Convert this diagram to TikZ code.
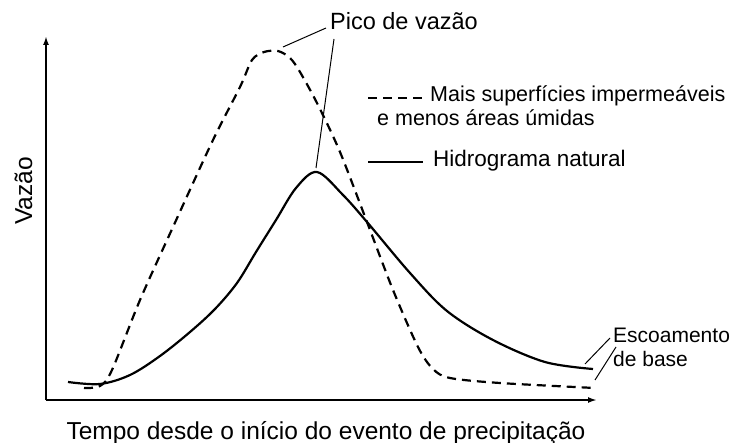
\documentclass[tikz,border=0pt]{standalone}
\usepackage{fontspec}
\setmainfont{Liberation Sans}
\usetikzlibrary{arrows.meta}
\begin{document}
\begin{tikzpicture}[x=1pt,y=-1pt,
  axis/.style={line width=2.2pt,-{Latex[length=9pt,width=6pt]}},
  curve/.style={line width=2.2pt,line join=round},
  dcurve/.style={curve,dash pattern=on 9pt off 6pt},
  leader/.style={line width=1pt},
  lbl/.style={inner sep=0pt,anchor=base west,font=\fontsize{21.5}{25}\selectfont},
  big/.style={inner sep=0pt,anchor=base,font=\fontsize{24.5}{28}\selectfont}]
\useasboundingbox (0,0) rectangle (735,443);
% axes
\coordinate (O) at (46,400);
\coordinate (ytip) at (46,36);
\coordinate (xtip) at (597,400);
\draw[axis] (O) -- (ytip);
\draw[axis] (O) -- (xtip);
% natural hydrograph
\draw[curve] plot[smooth,tension=0.55] coordinates {
 (68,382) (100,384) (130,375) (160,356) (190,332) (215,309) (237,283) (256,252) (276,220)
 (296,188) (317,172) (343,195) (367,222) (410,273) (447,311) (493,340) (545,362) (593,369)};
% urbanized hydrograph
\draw[dcurve] plot[smooth,tension=0.5] coordinates {
 (84,388) (100,386) (112,370) (140,300) (173,227) (213,140) (240,87) (252,60) (264,52)
 (278,51) (290,58) (300,72) (318,105) (340,152) (367,222) (393,290) (418,347) (433,369)
 (450,378) (500,383) (595,388)};
% title and leaders
\node[lbl,font=\fontsize{23.5}{27}\selectfont] (pico) at (330,30) {Pico de vazão};
\coordinate (p1) at (326,28);
\coordinate (p2) at (334,39);
\coordinate (pk1) at (283,47);
\coordinate (pk2) at (316,168);
\draw[leader] (p1) -- (pk1);
\draw[leader] (p2) -- (pk2);
% legend
\coordinate (ld1) at (368,98);
\coordinate (ld2) at (424,98);
\draw[line width=2.2pt,dash pattern=on 9pt off 6pt] (ld1) -- (ld2);
\node[lbl] (leg1) at (430,102) {Mais superfícies impermeáveis};
\node[lbl] (leg1b) at (377,126) {e menos áreas úmidas};
\coordinate (ls1) at (368,162);
\coordinate (ls2) at (423,162);
\draw[line width=2.2pt] (ls1) -- (ls2);
\node[lbl,font=\fontsize{22.5}{26}\selectfont] (leg2) at (433,167) {Hidrograma natural};
% base flow
\node[lbl,font=\fontsize{21}{25}\selectfont] (esc) at (613,342) {Escoamento};
\node[lbl,font=\fontsize{21}{25}\selectfont] (base) at (613,366) {de base};
\coordinate (e1) at (610,338);
\coordinate (e1b) at (585,364);
\coordinate (e2) at (616,347);
\coordinate (e2b) at (595,380);
\draw[leader] (e1) -- (e1b);
\draw[leader] (e2) -- (e2b);
% axis labels
\node[big] (xl) at (326,439) {Tempo desde o início do evento de precipitação};
\node[big,rotate=90] (yl) at (32,191) {Vazão};
\end{tikzpicture}
\end{document}
